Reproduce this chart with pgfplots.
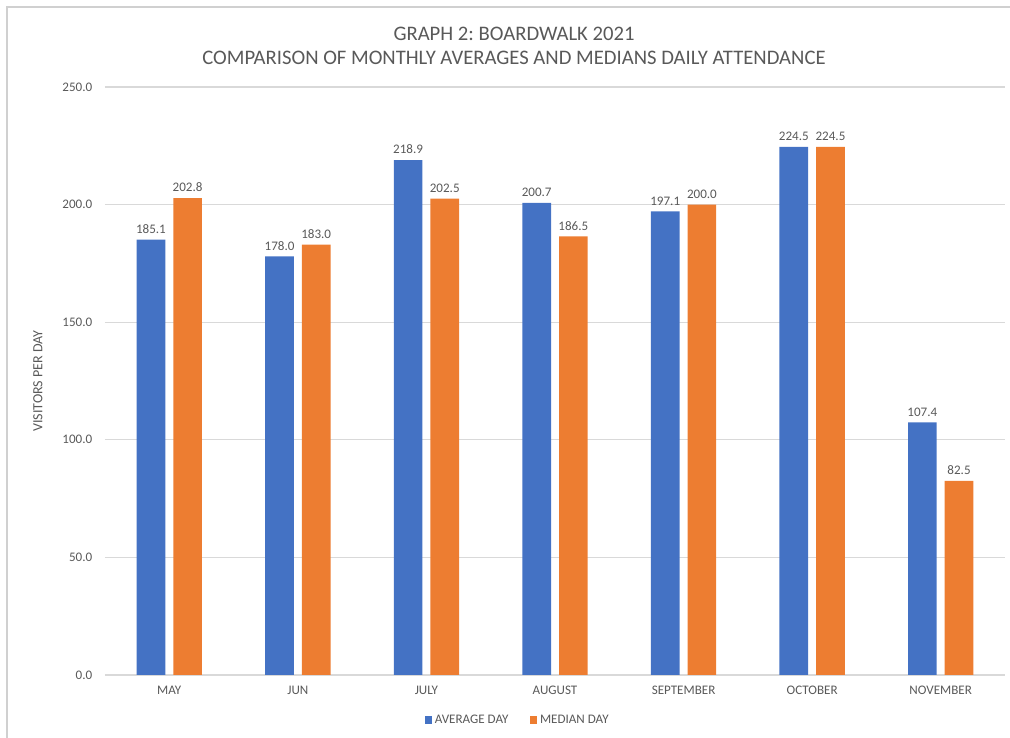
\documentclass[border=0pt]{standalone}
\usepackage{fontspec}
\setmainfont{Carlito}
\usepackage{pgfplots}
\pgfplotsset{compat=1.18}
\definecolor{avgblue}{HTML}{4472C4}
\definecolor{medorange}{HTML}{ED7D31}
\definecolor{gridgray}{HTML}{D9D9D9}
\definecolor{txtgray}{HTML}{595959}
\definecolor{framegray}{HTML}{D0D0D0}
\frenchspacing

\begin{document}
\begin{tikzpicture}
\useasboundingbox (-78.75pt,-47.25pt) rectangle (678.75pt,506.25pt);
\draw[framegray, line width=0.8pt] (-73.5pt,-50pt) -- (-73.5pt,501pt) -- (690pt,501pt);
\begin{axis}[
  at={(0,0)}, anchor=south west,
  scale only axis, width=675pt, height=441pt,
  ybar=6pt, bar width=21.5pt,
  xmin=-0.5, xmax=6.5, ymin=0, ymax=250,
  ytick distance=50,
  xtick=data,
  xticklabels={MAY,JUN,JULY,AUGUST,SEPTEMBER,OCTOBER,NOVEMBER},
  axis line style={draw=none},
  major tick length=0pt,
  ymajorgrids, grid style={gridgray, line width=0.8pt},
  tick label style={font=\fontsize{9.8}{11}\selectfont, text=txtgray},
  /pgf/number format/assume math mode=true,
  yticklabel={\pgfmathprintnumber[fixed,fixed zerofill,precision=1]{\tick}},
  yticklabel style={anchor=east, xshift=-6pt},
  xticklabel style={anchor=north, yshift=-5pt},
  nodes near coords,
  nodes near coords style={font=\fontsize{9.8}{11}\selectfont, text=txtgray, yshift=1pt,
    /pgf/number format/.cd, fixed, fixed zerofill, precision=1, assume math mode=true},
  legend style={at={(309.75pt,-33.75pt)}, anchor=center, draw=none, fill=none,
    legend columns=2, font=\fontsize{9.8}{11}\selectfont, text=txtgray,
    /tikz/every even column/.append style={column sep=14pt}},
  legend image code/.code={\fill[#1] (0pt,-2.8pt) rectangle (5.6pt,2.8pt);},
  clip=false,
]
\addplot[fill=avgblue, draw=none] coordinates
  {(0,185.1) (1,178.0) (2,218.9) (3,200.7) (4,197.1) (5,224.5) (6,107.4)};
\addlegendentry{AVERAGE DAY}
\addplot[fill=medorange, draw=none] coordinates
  {(0,202.8) (1,183.0) (2,202.5) (3,186.5) (4,200.0) (5,224.5) (6,82.5)};
\addlegendentry{MEDIAN DAY}
\end{axis}
\node[text=txtgray, font=\fontsize{15.5}{18}\selectfont] at (306.75pt,480.75pt) {GRAPH 2: BOARDWALK 2021};
\node[text=txtgray, font=\fontsize{15.5}{18}\selectfont] at (306.75pt,462.75pt) {COMPARISON OF MONTHLY AVERAGES AND MEDIANS DAILY ATTENDANCE};
\node[text=txtgray, font=\fontsize{10.5}{12}\selectfont, rotate=90] at (-50.25pt,220.5pt) {VISITORS PER DAY};
\end{tikzpicture}
\end{document}
